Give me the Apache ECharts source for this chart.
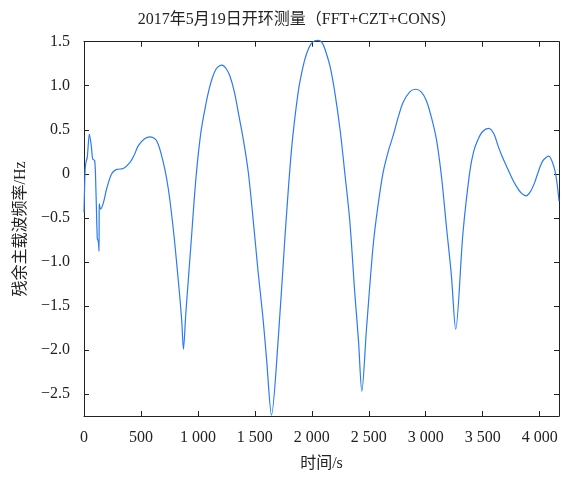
<!DOCTYPE html>
<html>
<head>
<meta charset="utf-8">
<script src="https://cdn.jsdelivr.net/npm/echarts@6/dist/echarts.min.js"></script>
<style>
  html, body { margin: 0; padding: 0; background: #fff; }
  #chart { width: 567px; height: 477px; }
</style>
</head>
<body>
<div id="chart"></div>
<script>
// time (s) and residual carrier frequency (Hz)
const times = [0, 10, 17, 29, 47, 64, 76, 94, 105, 117, 125, 132, 134, 146, 170, 199, 243, 287, 345, 404,
  440, 477, 535, 579, 638, 696, 740, 784, 827, 857, 873, 894, 938, 982, 1026, 1070, 1100, 1129, 1160, 1187, 1213, 1250, 1281,
  1320, 1354, 1400, 1442, 1485, 1529, 1570, 1603, 1646, 1705, 1763, 1822, 1880, 1920, 1953, 1990, 2026, 2055, 2090,
  2114, 2160, 2202, 2250, 2289, 2333, 2377, 2410, 2439,
  2480, 2538, 2580, 2626, 2670, 2713, 2760, 2801, 2860, 2912, 2960, 3006, 3050, 3094, 3140, 3181, 3225, 3263,
  3327, 3386, 3420, 3459, 3500, 3553, 3600,
  3634, 3670, 3708, 3750, 3795, 3840, 3883, 3920, 3956, 3990, 4029, 4079, 4123, 4150, 4170]
const freqs = [-0.44, 0.05, 0.13, 0.19, 0.45, 0.32, 0.17, 0.15, -0.2, -0.74, -0.76, -0.88, -0.34, -0.40, -0.33, -0.17, 0.0, 0.05, 0.06, 0.13,
  0.21, 0.32, 0.40, 0.42, 0.375, 0.13, -0.17, -0.63, -1.20, -1.65, -1.99, -1.58, -0.82, -0.06, 0.47, 0.79, 0.97, 1.10, 1.19, 1.225, 1.235, 1.19, 1.11,
  0.93, 0.70, 0.38, 0.02, -0.52, -1.12, -1.62, -2.11, -2.74, -1.88, -0.74, 0.28, 0.925, 1.2, 1.36, 1.47, 1.51, 1.515, 1.49,
  1.42, 1.22, 0.925, 0.48, 0.016, -0.53, -1.35, -1.9, -2.47,
  -1.76, -0.82, -0.37, 0.016, 0.25, 0.43, 0.65, 0.81, 0.93, 0.96, 0.93, 0.83, 0.64, 0.39, -0.05, -0.59, -1.15, -1.765,
  -0.67, 0.016, 0.25, 0.39, 0.48, 0.515, 0.45,
  0.32, 0.2, 0.09, -0.03, -0.14, -0.22, -0.25, -0.2, -0.10, 0.03, 0.15, 0.20, 0.09, -0.08, -0.31]
const xTicks = [0, 500, 1000, 1500, 2000, 2500, 3000, 3500, 4000]
const yTicks = [-2.5, -2, -1.5, -1, -0.5, 0, 0.5, 1, 1.5]

const font = '"Liberation Serif", "Noto Sans CJK SC", serif'
const lineColor = '#2b7bf2'

const chartDom = document.getElementById('chart')
const myChart = echarts.init(chartDom)

const fmtX = v => v === 0 ? '0' : String(v).replace(/\B(?=(\d{3})+(?!\d))/g, ' ')
const fmtY = v => v === 0 ? '0' : v.toFixed(1).replace('-', '\u2212')

const axisCommon = {
  axisLine: { show: true, onZero: false, lineStyle: { color: '#222', width: 1 } },
  axisTick: { show: true, inside: true, length: 5, lineStyle: { color: '#222' } },
  splitLine: { show: false }
}

const option = {
  animation: false,
  title: {
    text: '2017年5月19日开环测量（FFT+CZT+CONS）',
    left: 292,
    textAlign: 'center',
    top: 7,
    textStyle: { fontFamily: font, fontSize: 16, fontWeight: 'normal', color: '#222' }
  },
  grid: { left: 84, right: 8, top: 41.7, bottom: 61 },
  xAxis: [
    {
      ...axisCommon,
      type: 'value',
      min: 0,
      max: 4170,
      position: 'bottom',
      name: '时间/s',
      nameLocation: 'middle',
      nameGap: 40,
      nameTextStyle: { fontFamily: font, fontSize: 16, color: '#222' },
      axisTick: { ...axisCommon.axisTick, customValues: xTicks },
      axisLabel: { customValues: xTicks, formatter: fmtX, margin: 14, fontFamily: font, fontSize: 16, color: '#222' }
    },
    {
      ...axisCommon,
      type: 'value',
      min: 0,
      max: 4170,
      position: 'top',
      axisTick: { ...axisCommon.axisTick, customValues: xTicks },
      axisLabel: { show: false }
    }
  ],
  yAxis: [
    {
      ...axisCommon,
      type: 'value',
      min: -2.75,
      max: 1.5,
      position: 'left',
      name: '残余主载波频率/Hz',
      nameLocation: 'middle',
      nameGap: 55,
      nameTextStyle: { fontFamily: font, fontSize: 16, color: '#222' },
      axisTick: { ...axisCommon.axisTick, customValues: yTicks },
      axisLabel: { customValues: yTicks, formatter: fmtY, margin: 14, fontFamily: font, fontSize: 16, color: '#222' }
    },
    {
      ...axisCommon,
      type: 'value',
      min: -2.75,
      max: 1.5,
      position: 'right',
      axisTick: { ...axisCommon.axisTick, customValues: yTicks },
      axisLabel: { show: false }
    }
  ],
  series: [
    {
      type: 'line',
      data: times.map((t, i) => [t, freqs[i]]),
      showSymbol: false,
      smooth: 0.3,
      clip: false,
      lineStyle: { color: lineColor, width: 1.2 }
    }
  ]
}
myChart && myChart.setOption(option)
</script>
</body>
</html>
